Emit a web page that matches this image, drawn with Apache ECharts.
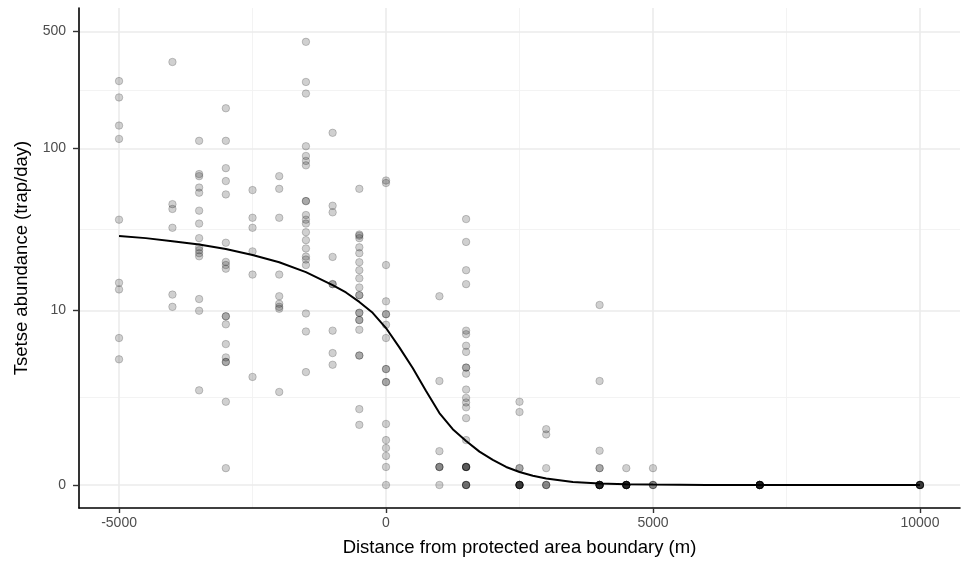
<!DOCTYPE html>
<html><head><meta charset="utf-8">
<script src="https://cdn.jsdelivr.net/npm/echarts@6/dist/echarts.min.js"></script>
<style>html,body{margin:0;padding:0;background:#fff}#chart{width:961px;height:565px}</style>
</head><body><div id="chart"></div>
<script>
// Observed trap catches, grouped by distance from the boundary (m)
const distances = [-5000, -4000, -3500, -3000, -2500, -2000, -1500, -1000, -500, 0, 1000, 1500, 2500, 3000, 4000, 4500, 5000, 7000, 10000];
const abundance = [
  [253, 202, 137, 114, 37, 15, 13.6, 6.5, 4.6],
  [329, 46, 43, 33, 12.6, 10.5],
  [111, 70, 68, 58, 54, 42, 35, 28.5, 25, 24, 23, 22, 11.8, 9.9, 2.66],
  [174, 111, 76, 63.5, 52.7, 26.7, 20.3, 19.4, 18.4, 9.1, 9.1, 8.05, 5.9, 4.75, 4.4, 4.4, 2.13, 0.26],
  [56, 38, 33, 23.6, 16.9, 3.4],
  [68, 57, 38, 16.9, 12.3, 11, 10.5, 10.2, 2.58],
  [434, 250, 213, 103, 90, 84, 79, 48, 48, 39.5, 37, 35, 31, 27.7, 24.6, 21.9, 21, 19.4, 9.5, 7.2, 3.7],
  [124, 45, 41, 21.8, 14.7, 14.7, 7.3, 5.1, 4.2],
  [57, 30, 29.5, 28.5, 25, 23, 20.2, 18, 16, 14, 12.5, 12.5, 9.6, 9.6, 8.6, 8.6, 7.4, 4.9, 4.9, 1.83, 1.28],
  [64, 61.8, 19.4, 11.4, 9.4, 9.4, 8.0, 6.5, 3.9, 3.9, 3.1, 3.1, 1.31, 0.85, 0.66, 0.49, 0.28, 0],
  [12.3, 3.16, 0.59, 0.28, 0.28, 0.28, 0],
  [37.3, 27, 18, 14.7, 7.3, 6.9, 5.75, 5.2, 4.0, 4.0, 3.6, 2.7, 2.3, 2.1, 1.9, 1.5, 0.85, 0.28, 0.28, 0.28, 0.28, 0.28, 0, 0, 0, 0],
  [2.13, 1.72, 0.26, 0.26, 0, 0, 0, 0, 0, 0, 0],
  [1.15, 1.0, 0.26, 0, 0, 0],
  [10.8, 3.16, 0.6, 0.26, 0.26, 0, 0, 0, 0, 0, 0, 0, 0, 0],
  [0.26, 0, 0, 0, 0, 0, 0, 0, 0, 0],
  [0.26, 0, 0, 0],
  [0, 0, 0, 0, 0, 0, 0, 0, 0, 0],
  [0, 0, 0, 0, 0, 0, 0]
];
// Fitted curve
const fitDistance = [-5000, -4500, -4000, -3500, -3000, -2500, -2000, -1500, -1000, -750, -500, -250, 0, 250, 500, 750, 1000, 1250, 1500, 1750, 2000, 2250, 2500, 2750, 3000, 3500, 4000, 4500, 5000, 6000, 7000, 10000];
const fitAbundance = [29.4, 28.5, 27.3, 26.0, 24.4, 22.4, 20.2, 17.5, 14.5, 13.0, 11.3, 9.6, 7.6, 5.6, 3.97, 2.63, 1.68, 1.15, 0.83, 0.58, 0.41, 0.28, 0.195, 0.135, 0.093, 0.042, 0.021, 0.011, 0.0055, 0.001, 0, 0];
// Axis ticks
const xTicks = [-5000, 0, 5000, 10000];
const xMinorTicks = [-2500, 2500, 7500];
const yTicks = [0, 10, 100, 500];

const tf = v => Math.log10(v + 1);
const points = [];
distances.forEach((d, i) => abundance[i].forEach(a => points.push([d, tf(a)])));
const fit = fitDistance.map((d, i) => [d, tf(fitAbundance[i])]);
const yTickT = yTicks.map(tf);
const yMinorT = yTickT.slice(1).map((t, i) => (t + yTickT[i]) / 2);
const font = '"Liberation Sans", Arial, sans-serif';
const major = {color: '#EBEBEB', width: 1.6, type: 'solid'};
const minor = {color: '#F2F2F2', width: 0.9, type: 'solid'};

const gridData = [
  ...xMinorTicks.map(v => ({xAxis: v, lineStyle: minor})),
  ...yMinorT.map(v => ({yAxis: v, lineStyle: minor})),
  ...xTicks.map(v => ({xAxis: v, lineStyle: major})),
  ...yTickT.map(v => ({yAxis: v, lineStyle: major}))
];

const chart = echarts.init(document.getElementById('chart'), null, {renderer: 'canvas'});
chart.setOption({
  animation: false,
  backgroundColor: '#fff',
  grid: {left: 79, right: 1, top: 8, bottom: 57},
  xAxis: {
    type: 'value', min: -5750, max: 10750,
    name: 'Distance from protected area boundary (m)', nameLocation: 'middle', nameGap: 30,
    nameTextStyle: {fontFamily: font, fontSize: 18.5, color: '#000'},
    axisLine: {show: true, onZero: false, lineStyle: {color: '#000', width: 1.6}},
    axisTick: {show: true, customValues: xTicks, length: 5, lineStyle: {color: '#333', width: 1.4}},
    axisLabel: {customValues: xTicks, fontFamily: font, fontSize: 14, color: '#4D4D4D', margin: 8, formatter: v => String(v)},
    splitLine: {show: false}
  },
  yAxis: {
    type: 'value', min: -0.137, max: 2.84,
    name: 'Tsetse abundance (trap/day)', nameLocation: 'middle', nameGap: 48,
    nameTextStyle: {fontFamily: font, fontSize: 18.5, color: '#000'},
    axisLine: {show: true, onZero: false, lineStyle: {color: '#000', width: 1.6}},
    axisTick: {show: true, customValues: yTickT, length: 6, lineStyle: {color: '#333', width: 1.4}},
    axisLabel: {customValues: yTickT, fontFamily: font, fontSize: 14, color: '#4D4D4D', margin: 13,
      formatter: v => { let best = 0; yTickT.forEach((t, i) => { if (Math.abs(t - v) < Math.abs(yTickT[best] - v)) best = i; }); return String(yTicks[best]); }},
    splitLine: {show: false}
  },
  series: [
    {type: 'line', data: [], z: 1, silent: true,
     markLine: {z: 0, silent: true, symbol: ['none', 'none'], label: {show: false}, animation: false, data: gridData}},
    {type: 'scatter', data: points, z: 3, symbolSize: 7.5,
     itemStyle: {color: 'rgba(0,0,0,0.23)', borderColor: 'rgba(0,0,0,0.3)', borderWidth: 0.8}},
    {type: 'line', data: fit, z: 4, showSymbol: false, smooth: false,
     lineStyle: {color: '#000', width: 2}}
  ]
});
</script></body></html>
